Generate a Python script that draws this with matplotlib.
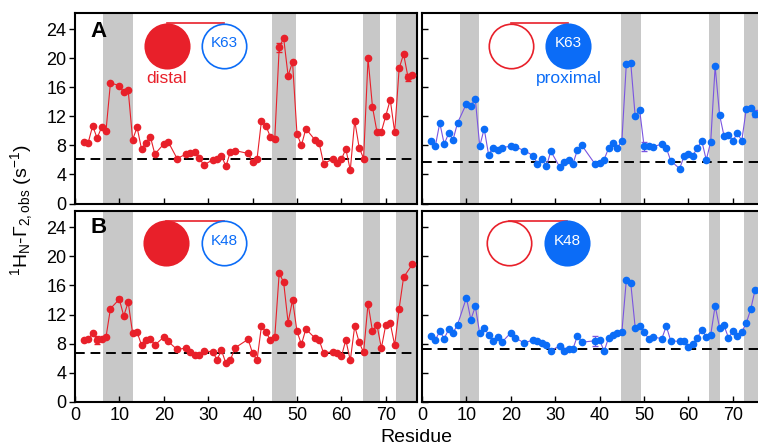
import numpy as np
import matplotlib
matplotlib.use("Agg")
import matplotlib.pyplot as plt

plt.rcParams['font.family'] = ['Liberation Sans', 'DejaVu Sans']
plt.rcParams['mathtext.fontset'] = 'custom'
plt.rcParams['mathtext.rm'] = 'Liberation Sans'
plt.rcParams['mathtext.it'] = 'Liberation Sans'
plt.rcParams['mathtext.default'] = 'regular'

# residues observed (same set in every panel, missing values as nan)
residues = [2, 3, 4, 5, 6, 7, 8, 10, 11, 12, 13, 14, 15, 16, 17, 18, 20, 21, 23, 25,
            26, 27, 28, 29, 31, 32, 33, 34, 35, 36, 39, 40, 41, 42, 43, 44, 45, 46, 47, 48,
            49, 50, 51, 52, 54, 55, 56, 58, 59, 60, 61, 62, 63, 64, 65, 66, 67, 68, 69, 70,
            71, 72, 73, 74, 75, 76]

k63_distal = [8.5, 8.4, 10.7, 9.0, 10.5, 10.0, 16.6, 16.25, 15.3, 15.6, 8.8, 10.5, 7.5, 8.4, 9.2, 6.8, 8.2, 8.5, 6.2, 6.8,
              6.9, 7.05, 6.3, 5.3, 6.0, 6.2, 6.6, 5.1, 7.15, 7.3, 6.9, 5.7, 6.1, 11.4, 10.7, 9.2, 8.9, 21.5, 22.8, 17.6,
              19.5, 9.6, 8.0, 10.3, 8.8, 8.3, 5.5, 6.1, 5.6, 6.1, 7.5, 4.6, 11.4, 7.7, 6.2, 20.0, 13.3, 9.9, 9.9, 12.1,
              14.3, 9.8, 18.6, 20.6, 17.4, 17.7]
k63_proximal = [8.6, 7.9, 11.1, 8.2, 9.65, 8.8, 11.1, 13.75, 13.5, 14.4, 7.9, 10.3, 6.7, 7.7, 7.4, 7.7, 7.9, 7.8, 7.3, 6.6,
                5.5, 6.1, 5.1, 7.2, 5.05, 5.7, 6.0, 5.5, 7.4, 8.0, 5.4, 5.55, 6.06, 7.6, 8.4, 7.7, 8.6, 19.2, 19.35, 12.0,
                12.9, 7.9, 7.9, 7.8, 8.2, 7.65, 5.9, 4.8, 6.5, 6.8, 6.6, 7.7, 8.6, 6.0, 8.5, 18.9, 12.2, 9.3, 9.4, 8.65,
                9.7, 8.65, 13.0, 13.2, 12.4, np.nan]
k48_distal = [8.5, 8.7, 9.4, 8.5, 8.7, 8.9, 12.8, 14.1, 11.8, 13.7, 9.4, 9.6, 7.8, 8.5, 8.7, 7.8, 8.9, 8.3, 7.2, 7.4,
              6.8, 6.4, 6.4, 7.0, 6.9, 5.8, 7.1, 5.3, 5.7, 7.4, 8.6, 6.7, 5.7, 10.4, 9.6, 8.5, 8.9, 17.7, 16.4, 10.9,
              14.0, 9.7, 7.9, 10.0, 8.8, 8.5, 6.7, 6.9, 6.75, 6.25, 8.5, 5.7, 10.4, 8.2, 6.8, 13.5, 9.7, 10.6, 7.4, 10.6,
              10.8, 7.8, 12.8, 17.1, np.nan, 18.9]
k48_proximal = [9.1, 8.5, 9.7, 8.7, 9.95, 9.5, 10.6, 14.3, 11.3, 13.1, 9.4, 10.2, 9.2, 8.4, 8.9, 8.2, 9.5, 8.8, 8.1, 8.5,
                8.3, 8.05, 7.8, 7.05, 7.7, 7.05, 7.3, 7.3, 9.1, 8.2, 8.4, 8.5, 6.95, 8.8, 9.2, 9.45, 9.6, 16.7, 16.3, 10.2,
                10.45, 9.6, 8.7, 8.9, 8.7, 10.4, 8.4, 8.3, 8.3, 7.6, 7.9, 8.8, 9.9, 8.95, 9.2, 13.2, 10.2, 10.5, 8.8, 9.7,
                9.1, 9.6, 10.8, 12.7, 15.4, np.nan]

# a few error bars (residue: error)
err_k63_distal = {46: 0.6, 75: 0.5}
err_k63_proximal = {50: 0.6, 75: 0.5}
err_k48_distal = {5: 0.6, 10: 0.3}
err_k48_proximal = {32: 0.3, 39: 0.7}

# baselines
base_k63_distal, base_k63_proximal = 6.2, 5.7
base_k48_distal, base_k48_proximal = 6.75, 7.3

bands_distal = [(6.3, 13.0), (44.4, 49.8), (64.8, 68.8), (72.3, 77.5)]
bands_proximal = [(8.6, 12.8), (44.8, 49.4), (64.7, 67.1), (72.6, 77.5)]

RED = '#e8202a'
BLUE = '#0b6cf7'
PURPLE = '#7a55e0'

fig = plt.figure(figsize=(7.58, 4.47), dpi=100)
W = 342 / 758
axA1 = fig.add_axes([74.9 / 758, 0.5447, W, 0.4255])
axA2 = fig.add_axes([422 / 758, 0.5447, W, 0.4255])
axB1 = fig.add_axes([74.9 / 758, 0.1007, W, 0.4273])
axB2 = fig.add_axes([422 / 758, 0.1007, W, 0.4273])


def draw_panel(ax, vals, errs, base, bands, mcolor, lcolor, left):
    r = np.array(residues, dtype=float)
    v = np.array(vals, dtype=float)
    ok = ~np.isnan(v)
    for b0, b1 in bands:
        ax.axvspan(b0, b1, color='#c8c8c8', lw=0, zorder=0)
    ax.axhline(base, color='black', lw=1.4, dashes=(5, 3), zorder=1)
    ax.plot(r[ok], v[ok], color=lcolor, lw=0.8, zorder=2)
    ax.plot(r[ok], v[ok], 'o', color=mcolor, ms=4.5, mec=mcolor, zorder=3)
    for res, e in errs.items():
        ax.errorbar(res, v[residues.index(res)], yerr=e, color=lcolor, lw=0.8,
                    capsize=2, fmt='none', zorder=2)
    ax.set_xlim(0, 77)
    ax.set_ylim(0, 26.2)
    ax.set_xticks(range(0, 80, 10))
    ax.set_yticks(range(0, 25, 4))
    ax.tick_params(axis='x', direction='in', length=4, width=1, labelsize=13)
    if left:
        ax.tick_params(axis='y', direction='out', length=4, width=1, labelsize=13, pad=2)
    else:
        ax.tick_params(axis='y', direction='in', length=4, width=1, labelleft=False)
    for s in ax.spines.values():
        s.set_linewidth(1.5)


def cartoon(ax, x_red, x_blue, red_filled, label, word, word_color):
    y0, yl = 0.83, 0.95
    ax.plot([x_red, x_blue], [yl, yl], color=RED, lw=1.2, transform=ax.transAxes, zorder=4)
    ax.plot(x_red, y0, 'o', ms=32, transform=ax.transAxes, zorder=5,
            mfc=RED if red_filled else 'white', mec=RED, mew=1.2)
    ax.plot(x_blue, y0, 'o', ms=32, transform=ax.transAxes, zorder=5,
            mfc='white' if red_filled else BLUE, mec=BLUE, mew=1.2)
    ax.text(x_blue, y0 + 0.015, label, transform=ax.transAxes, ha='center', va='center',
            fontsize=11, color=BLUE if red_filled else 'white', zorder=6)
    if word:
        xw = x_red if red_filled else x_blue
        ax.text(xw, 0.655, word, transform=ax.transAxes, ha='center', va='center',
                fontsize=12.5, color=word_color, zorder=6)


draw_panel(axA1, k63_distal, err_k63_distal, base_k63_distal, bands_distal, RED, RED, True)
draw_panel(axA2, k63_proximal, err_k63_proximal, base_k63_proximal, bands_proximal, BLUE, PURPLE, False)
draw_panel(axB1, k48_distal, err_k48_distal, base_k48_distal, bands_distal, RED, RED, True)
draw_panel(axB2, k48_proximal, err_k48_proximal, base_k48_proximal, bands_proximal, BLUE, PURPLE, False)

for ax in (axA1, axA2):
    ax.tick_params(axis='x', labelbottom=False)

cartoon(axA1, 0.268, 0.437, True, 'K63', 'distal', RED)
cartoon(axA2, 0.26, 0.428, False, 'K63', 'proximal', BLUE)
cartoon(axB1, 0.266, 0.436, True, 'K48', None, None)
cartoon(axB2, 0.255, 0.425, False, 'K48', None, None)

axA1.text(0.045, 0.905, 'A', transform=axA1.transAxes, fontsize=16, fontweight='bold', va='center')
axB1.text(0.045, 0.915, 'B', transform=axB1.transAxes, fontsize=16, fontweight='bold', va='center')

fig.text(0.028, 0.53, r'$^{1}$H$_{N}$-$\Gamma_{2,obs}$ (s$^{-1}$)', rotation=90,
         ha='center', va='center', fontsize=14)
fig.text(416 / 758, 0.022, 'Residue', ha='center', va='center', fontsize=14)

fig.savefig('out.png', dpi=100)
